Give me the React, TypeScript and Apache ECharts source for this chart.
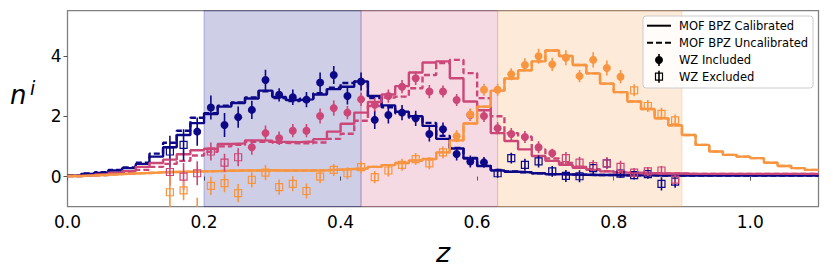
import React, { useEffect, useRef } from "react";
import * as echarts from "echarts";

// ---------- data ----------
const BIN_WIDTH = 0.02; // histogram bins start at 0.00 and step by 0.02
const X_TICKS = [0, 0.2, 0.4, 0.6, 0.8, 1.0];
const Y_TICKS = [0, 2, 4];

const NAVY = "#0d0887";
const PINK = "#cc4778";
const ORANGE = "#f89540";

// calibrated (solid) and uncalibrated (dashed) n(z), bins 0.00 ... 1.08
const navySolid = [
  0.03, 0.09, 0.12, 0.2, 0.28, 0.42, 0.66, 0.97, 1.38, 1.77,
  2.07, 2.32, 2.44, 2.59, 2.85, 2.64, 2.54, 2.56, 2.72, 2.9,
  2.98, 3.15, 2.67, 2.36, 2.15, 2.0, 1.68, 1.25, 0.93, 0.6,
  0.35, 0.2, 0.16, 0.14, 0.11, 0.08, 0.07, 0.06, 0.05, 0.05,
  0.04, 0.04, 0.04, 0.03, 0.03, 0.03, 0.03, 0.03, 0.03, 0.03,
  0.03, 0.03, 0.03, 0.03, 0.03,
];
const navyDashed = [
  0.04, 0.1, 0.14, 0.22, 0.3, 0.46, 0.76, 1.12, 1.52, 1.95,
  2.1, 2.35, 2.46, 2.62, 2.83, 2.6, 2.5, 2.58, 2.76, 2.95,
  3.1, 3.15, 2.6, 2.3, 2.1, 1.95, 1.78, 1.35, 0.95, 0.62,
  0.36, 0.22, 0.17, 0.14, 0.11, 0.08, 0.07, 0.06, 0.05, 0.05,
  0.04, 0.04, 0.04, 0.03, 0.03, 0.03, 0.03, 0.03, 0.03, 0.03,
  0.03, 0.03, 0.03, 0.03, 0.03,
];
const pinkSolid = [
  0.02, 0.04, 0.07, 0.12, 0.18, 0.32, 0.45, 0.56, 0.74, 0.87,
  0.92, 1.08, 1.1, 1.2, 1.19, 1.15, 1.14, 1.16, 1.24, 1.49,
  1.75, 2.12, 2.47, 2.72, 3.0, 3.45, 3.78, 3.82, 3.26, 2.49,
  2.2, 1.44, 1.18, 0.9, 0.68, 0.52, 0.39, 0.29, 0.22, 0.17,
  0.13, 0.12, 0.11, 0.1, 0.1, 0.09, 0.09, 0.09, 0.09, 0.09,
  0.09, 0.09, 0.09, 0.09, 0.09,
];
const pinkDashed = [
  0.02, 0.03, 0.05, 0.08, 0.13, 0.22, 0.32, 0.42, 0.52, 0.7,
  0.82, 1.0, 1.05, 1.15, 1.15, 1.12, 1.1, 1.1, 1.13, 1.25,
  1.42, 1.85, 2.34, 2.62, 2.65, 2.93, 3.37, 3.76, 3.87, 3.43,
  2.6, 2.0, 1.44, 1.32, 0.9, 0.6, 0.45, 0.32, 0.24, 0.18,
  0.14, 0.12, 0.11, 0.1, 0.1, 0.09, 0.09, 0.09, 0.09, 0.09,
  0.09, 0.09, 0.09, 0.09, 0.09,
];
const orangeSolid = [
  0.02, 0.04, 0.06, 0.08, 0.1, 0.12, 0.14, 0.15, 0.16, 0.17,
  0.18, 0.19, 0.2, 0.2, 0.21, 0.2, 0.2, 0.2, 0.21, 0.23,
  0.25, 0.27, 0.32, 0.38, 0.45, 0.53, 0.58, 0.8, 1.2, 1.76,
  2.32, 2.85, 3.25, 3.52, 3.82, 4.18, 4.0, 3.7, 3.42, 3.08,
  2.8, 2.49, 2.24, 1.93, 1.7, 1.38, 1.05, 0.83, 0.72, 0.66,
  0.61, 0.46, 0.35, 0.28, 0.22,
];
const orangeDashed = [
  0.02, 0.04, 0.06, 0.08, 0.1, 0.12, 0.14, 0.15, 0.16, 0.17,
  0.18, 0.19, 0.2, 0.2, 0.21, 0.2, 0.2, 0.2, 0.21, 0.23,
  0.25, 0.27, 0.32, 0.38, 0.45, 0.53, 0.58, 0.8, 1.2, 1.76,
  2.32, 2.85, 3.25, 3.52, 3.82, 4.18, 4.0, 3.7, 3.42, 3.08,
  2.8, 2.49, 2.24, 1.93, 1.7, 1.38, 1.05, 0.83, 0.72, 0.66,
  0.61, 0.46, 0.35, 0.28, 0.22,
];

// WZ clustering redshifts
const wzZ = [
  0.15, 0.17, 0.19, 0.21, 0.23, 0.25, 0.27, 0.29, 0.31, 0.33,
  0.35, 0.37, 0.39, 0.41, 0.43, 0.45, 0.47, 0.49, 0.51, 0.53,
  0.55, 0.57, 0.59, 0.61, 0.63, 0.65, 0.67, 0.69, 0.71, 0.73,
  0.75, 0.77, 0.79, 0.81, 0.83, 0.85, 0.87, 0.89,
];
const navyWz = [
  0.83, 1.05, 1.49, 2.29, 1.71, 1.97, 2.21, 3.2, 2.71, 2.63,
  2.55, 3.12, 3.37, 2.67, 3.15, 1.88, 2.04, 2.12, 1.93, 1.41,
  1.57, 0.75, 0.5, 0.47, 0.11, 0.61, 0.39, 0.5, 0.17, 0.02,
  0.01, 0.28, 0.44, 0.1, 0.05, 0.08, -0.24, -0.17,
];
const navyErr = [
  0.52, 0.52, 0.47, 0.4, 0.4, 0.35, 0.3, 0.34, 0.22, 0.26,
  0.25, 0.33, 0.3, 0.28, 0.3, 0.3, 0.28, 0.25, 0.25, 0.25,
  0.22, 0.22, 0.2, 0.18, 0.15, 0.18, 0.2, 0.2, 0.18, 0.2,
  0.2, 0.2, 0.18, 0.15, 0.15, 0.15, 0.22, 0.2,
];
const pinkWz = [
  0.15, 0.0, 0.11, 0.83, 0.46, 0.64, 0.97, 1.44, 1.27, 1.52,
  1.52, 2.01, 2.27, 2.12, 2.56, 2.38, 2.67, 2.98, 3.26, 2.82,
  2.82, 2.54, 2.04, 2.01, 1.6, 1.41, 1.31, 0.97, 0.77, 0.61,
  0.46, 0.35, 0.44, 0.32, 0.13, 0.17, 0.2, -0.1,
];
const pinkErr = [
  0.45, 0.45, 0.4, 0.3, 0.3, 0.3, 0.25, 0.25, 0.22, 0.22,
  0.22, 0.25, 0.25, 0.22, 0.22, 0.22, 0.22, 0.22, 0.22, 0.22,
  0.2, 0.2, 0.2, 0.2, 0.2, 0.2, 0.2, 0.2, 0.15, 0.2,
  0.2, 0.2, 0.2, 0.2, 0.15, 0.15, 0.15, 0.15,
];
const orangeWz = [
  -0.52, -0.46, -1.1, -0.31, -0.22, -0.55, -0.11, 0.13, -0.35, -0.24,
  -0.48, 0.0, 0.22, 0.11, 0.31, -0.02, 0.2, 0.39, 0.58, 0.44,
  0.8, 1.34, 2.06, 2.88, 2.88, 3.39, 3.7, 3.99, 3.72, 3.94,
  3.33, 3.87, 3.6, 3.31, 2.86, 2.34, 2.08, 1.86,
];
const orangeErr = [
  0.55, 0.33, 0.4, 0.3, 0.3, 0.3, 0.25, 0.25, 0.25, 0.25,
  0.25, 0.22, 0.2, 0.2, 0.2, 0.2, 0.2, 0.2, 0.2, 0.2,
  0.2, 0.2, 0.2, 0.2, 0.2, 0.2, 0.22, 0.25, 0.22, 0.25,
  0.2, 0.25, 0.25, 0.22, 0.2, 0.2, 0.2, 0.2,
];
// WZ included ranges per tomographic bin
const navyIncluded = [0.19, 0.61];
const pinkIncluded = [0.27, 0.71];
const orangeIncluded = [0.57, 0.81];

// tomographic bin edges (shaded regions)
const binRanges = [
  [0.2, 0.43],
  [0.43, 0.63],
  [0.63, 0.9],
];

// ---------- helpers ----------
const FONT = "DejaVu Sans";

function stepData(vals: number[]) {
  const pts = vals.map((v, i) => [i * BIN_WIDTH, v]);
  pts.push([vals.length * BIN_WIDTH, vals[vals.length - 1]]);
  return pts;
}

function rgba(hex: string, a: number) {
  const r = parseInt(hex.slice(1, 3), 16);
  const g = parseInt(hex.slice(3, 5), 16);
  const b = parseInt(hex.slice(5, 7), 16);
  return `rgba(${r},${g},${b},${a})`;
}

function binSeries(
  color: string,
  solid: number[],
  dashed: number[],
  wz: number[],
  err: number[],
  incl: number[]
) {
  const isIn = (z: number) => z >= incl[0] - 1e-6 && z <= incl[1] + 1e-6;
  const inc = wzZ.map((z, i) => [z, wz[i]]).filter((p) => isIn(p[0]));
  const exc = wzZ.map((z, i) => [z, wz[i]]).filter((p) => !isIn(p[0]));
  return [
    {
      type: "line",
      data: stepData(dashed),
      step: "end",
      symbol: "none",
      lineStyle: { color, width: 2.4, type: [6, 3] },
      z: 2,
      silent: true,
    },
    {
      type: "line",
      data: stepData(solid),
      step: "end",
      symbol: "none",
      lineStyle: { color, width: 2.4 },
      z: 3,
      silent: true,
    },
    {
      type: "custom",
      data: wzZ.map((z, i) => [z, wz[i], err[i]]),
      clip: true,
      z: 4,
      silent: true,
      renderItem: (params: any, api: any) => {
        const x = api.value(0);
        const y = api.value(1);
        const e = api.value(2);
        const p1 = api.coord([x, y - e]);
        const p2 = api.coord([x, y + e]);
        return {
          type: "line",
          shape: { x1: p1[0], y1: p1[1], x2: p2[0], y2: p2[1] },
          style: { stroke: color, lineWidth: 1.6 },
        };
      },
    },
    {
      type: "scatter",
      data: inc,
      symbol: "circle",
      symbolSize: 8,
      itemStyle: { color, opacity: 1 },
      z: 5,
      silent: true,
    },
    {
      type: "scatter",
      data: exc,
      symbol: "rect",
      symbolSize: 7,
      itemStyle: {
        color: "rgba(0,0,0,0)",
        borderColor: color,
        borderWidth: 1.2,
        opacity: 1,
      },
      z: 5,
      silent: true,
    },
  ];
}

export default function App() {
  const ref = useRef<HTMLDivElement>(null);

  useEffect(() => {
    if (!ref.current) return;
    const chart = echarts.init(ref.current, null, { renderer: "svg" });

    const colors = [NAVY, PINK, ORANGE];
    const areaSeries = {
      type: "line",
      data: [[0, -5]],
      symbol: "none",
      lineStyle: { opacity: 0 },
      z: 1,
      silent: true,
      markArea: {
        silent: true,
        data: binRanges.map((r, i) => [
          {
            xAxis: r[0],
            itemStyle: {
              color: rgba(colors[i], 0.2),
              borderColor: rgba(colors[i], 0.25),
              borderWidth: 1,
            },
          },
          { xAxis: r[1] },
        ]),
      },
    };

    const legX = 643;
    const legY = 16;
    const rowY = [25.7, 42.7, 60, 76.7];
    const hx = 659;
    const legendText = [
      "MOF BPZ Calibrated",
      "MOF BPZ Uncalibrated",
      "WZ Included",
      "WZ Excluded",
    ];

    const graphic: any[] = [
      {
        type: "rect",
        shape: { x: legX, y: legY, width: 170, height: 72, r: 3 },
        style: { fill: "rgba(255,255,255,0.85)", stroke: "#cccccc", lineWidth: 1 },
        z: 100,
      },
      {
        type: "line",
        shape: { x1: 647, y1: rowY[0], x2: 671, y2: rowY[0] },
        style: { stroke: "#000", lineWidth: 2 },
        z: 101,
      },
      {
        type: "line",
        shape: { x1: 647, y1: rowY[1], x2: 671, y2: rowY[1] },
        style: { stroke: "#000", lineWidth: 2, lineDash: [6, 3] },
        z: 101,
      },
      {
        type: "line",
        shape: { x1: hx, y1: rowY[2] - 6, x2: hx, y2: rowY[2] + 6 },
        style: { stroke: "#000", lineWidth: 1.6 },
        z: 101,
      },
      {
        type: "circle",
        shape: { cx: hx, cy: rowY[2], r: 4 },
        style: { fill: "#000" },
        z: 101,
      },
      {
        type: "line",
        shape: { x1: hx, y1: rowY[3] - 6, x2: hx, y2: rowY[3] + 6 },
        style: { stroke: "#000", lineWidth: 1.6 },
        z: 101,
      },
      {
        type: "rect",
        shape: { x: hx - 3.5, y: rowY[3] - 3.5, width: 7, height: 7 },
        style: { fill: "none", stroke: "#000", lineWidth: 1.2 },
        z: 101,
      },
      ...legendText.map((t, i) => ({
        type: "text",
        x: 679,
        y: rowY[i],
        style: {
          text: t,
          fontSize: 11.5,
          fontFamily: FONT,
          fill: "#000",
          align: "left",
          verticalAlign: "middle",
        },
        z: 101,
      })),
      {
        type: "text",
        x: 10,
        y: 94.5,
        style: {
          text: "n",
          fontSize: 26,
          fontStyle: "italic",
          fontFamily: FONT,
          fill: "#000",
          align: "left",
          verticalAlign: "middle",
        },
      },
      {
        type: "text",
        x: 30,
        y: 88,
        style: {
          text: "i",
          fontSize: 19,
          fontStyle: "italic",
          fontFamily: FONT,
          fill: "#000",
          align: "left",
          verticalAlign: "middle",
        },
      },
      {
        type: "text",
        x: 443,
        y: 252,
        style: {
          text: "z",
          fontSize: 27,
          fontStyle: "italic",
          fontFamily: FONT,
          fill: "#000",
          align: "center",
          verticalAlign: "middle",
        },
      },
    ];

    const option: any = {
      animation: false,
      grid: {
        left: 67.5,
        right: 11.5,
        top: 10.7,
        bottom: 70.3,
        show: true,
        borderColor: "#808080",
        borderWidth: 1.3,
        backgroundColor: "transparent",
      },
      xAxis: {
        type: "value",
        min: 0,
        max: 1.1,
        axisLine: { show: false },
        splitLine: { show: false },
        axisTick: {
          show: true,
          length: 4,
          lineStyle: { color: "#555", width: 1 },
          customValues: X_TICKS,
        },
        axisLabel: {
          customValues: X_TICKS,
          formatter: (v: number) => v.toFixed(1),
          fontSize: 17,
          fontFamily: FONT,
          color: "#000",
          margin: 7,
        },
      },
      yAxis: {
        type: "value",
        min: -1,
        max: 5.5,
        axisLine: { show: false },
        splitLine: { show: false },
        axisTick: {
          show: true,
          length: 4,
          lineStyle: { color: "#555", width: 1 },
          customValues: Y_TICKS,
        },
        axisLabel: {
          customValues: Y_TICKS,
          formatter: (v: number) => String(v),
          fontSize: 17,
          fontFamily: FONT,
          color: "#000",
          margin: 6,
        },
      },
      graphic,
      series: [
        areaSeries,
        ...binSeries(NAVY, navySolid, navyDashed, navyWz, navyErr, navyIncluded),
        ...binSeries(PINK, pinkSolid, pinkDashed, pinkWz, pinkErr, pinkIncluded),
        ...binSeries(ORANGE, orangeSolid, orangeDashed, orangeWz, orangeErr, orangeIncluded),
      ],
    };

    chart.setOption(option);
    return () => chart.dispose();
  }, []);

  return (
    <div
      ref={ref}
      style={{ position: "fixed", left: 0, top: 0, width: 830, height: 277, background: "#fff" }}
    />
  );
}
